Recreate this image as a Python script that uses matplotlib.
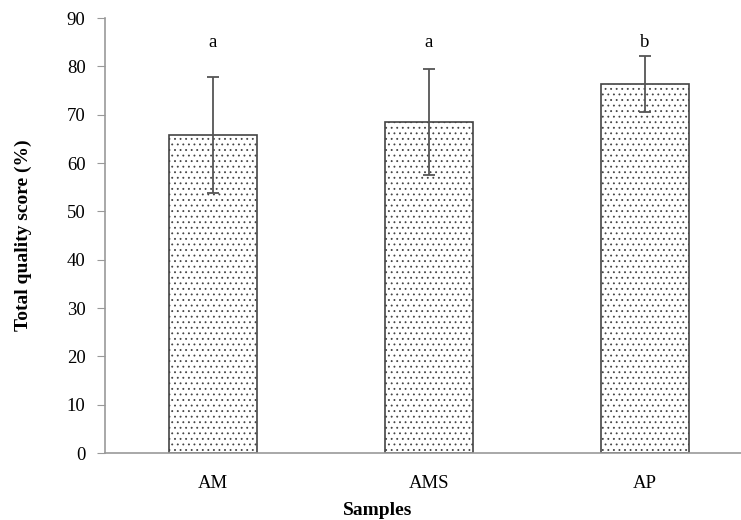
import numpy as np
import matplotlib.pyplot as plt

samples = ["AM", "AMS", "AP"]
scores = [65.8, 68.5, 76.3]
errors = [12.0, 11.0, 5.8]
letters = ["a", "a", "b"]

plt.rcParams["font.family"] = ["Liberation Serif", "DejaVu Serif"]
plt.rcParams["hatch.linewidth"] = 0.6

fig = plt.figure(figsize=(7.41, 5.2), dpi=100)
ax = fig.add_axes([0.1417, 0.1288, 0.8745, 0.8365])

x = np.arange(len(samples))
ax.bar(x, scores, width=0.41, color="white", edgecolor="#444444",
       hatch="...", linewidth=1.2, zorder=2)
ax.errorbar(x, scores, yerr=errors, fmt="none", ecolor="#555555",
            elinewidth=1.3, capsize=4, capthick=1.3, zorder=3)

for xi, lab in zip(x, letters):
    ax.text(xi, 84, lab, ha="center", va="baseline", fontsize=13.5)

ax.set_xlim(-0.5, 2.5)
ax.set_ylim(0, 90)
ax.set_yticks(range(0, 91, 10))
ax.set_xticks(x)
ax.set_xticklabels(samples, fontsize=13.5)
ax.tick_params(axis="y", labelsize=13.5, length=6, color="#999999", direction="out", pad=8)
ax.tick_params(axis="x", length=0, pad=16)

for side in ["top", "right"]:
    ax.spines[side].set_visible(False)
ax.spines["left"].set_color("#999999")
ax.spines["bottom"].set_color("#999999")
ax.spines["left"].set_linewidth(1.2)
ax.spines["bottom"].set_linewidth(1.2)

ax.set_ylabel("Total quality score (%)", fontsize=14, fontweight="bold")
ax.yaxis.set_label_coords(-0.112, 0.5)
ax.set_xlabel("Samples", fontsize=14, fontweight="bold")
ax.xaxis.set_label_coords(0.42, -0.113)

fig.savefig("out.png", dpi=100)
